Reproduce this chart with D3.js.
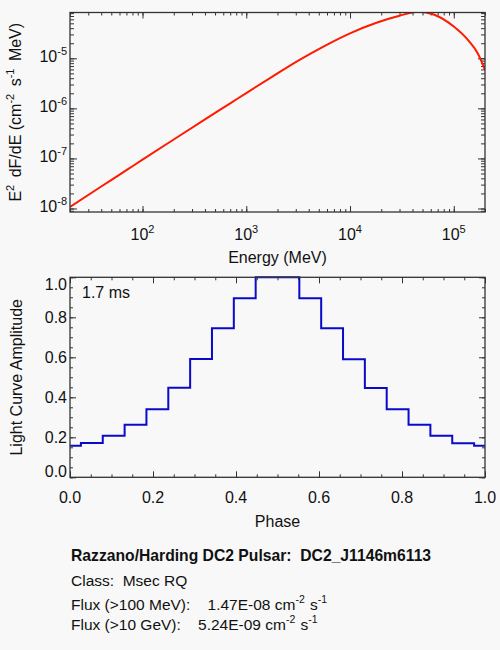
<!DOCTYPE html>
<html>
<head>
<meta charset="utf-8">
<script src="https://cdn.jsdelivr.net/npm/d3@7"></script>
<style>
  body { margin: 0; background: #f8f8f8; }
  text { font-family: "Liberation Sans", Arial, Helvetica, sans-serif; fill: #111; }
</style>
</head>
<body>
<svg id="chart" width="500" height="650"></svg>
<script>
var svg = d3.select('#chart');
const W = +svg.attr('width');
const H = +svg.attr('height');

// spectrum (MeV, cm^-2 s^-1 MeV)
const specEnergy = [20, 40, 70, 100, 200, 400, 700, 1000, 1800, 3200, 5600,
                    10000, 18000, 30000, 45000, 65000, 100000, 140000, 170000, 200000];
const specFlux = [1.08e-8, 2.75e-8, 5.82e-8, 9.44e-8, 2.39e-7, 6.03e-7, 1.26e-6, 2.02e-6,
                  4.37e-6, 9.12e-6, 1.74e-5, 3.16e-5, 5.13e-5, 7.08e-5, 8.5e-5, 7.4e-5,
                  4.3e-5, 2.2e-5, 1.26e-5, 5.9e-6];

// light curve bins
const lcPhase = [0, 0.0526, 0.1053, 0.1579, 0.2105, 0.2632, 0.3158, 0.3684, 0.4211, 0.4737,
                 0.5263, 0.5789, 0.6316, 0.6842, 0.7368, 0.7895, 0.8421, 0.8947, 0.9474, 1.0];
const lcAmp = [0.158, 0.172, 0.208, 0.263, 0.34, 0.448, 0.592, 0.745, 0.895, 1.0,
               1.0, 0.895, 0.745, 0.59, 0.447, 0.34, 0.263, 0.208, 0.17, 0.158];

// tick labels
const energyTicks = [1e2, 1e3, 1e4, 1e5];
const energyExp = ["2", "3", "4", "5"];
const fluxTicks = [1e-8, 1e-7, 1e-6, 1e-5];
const fluxExp = ["-8", "-7", "-6", "-5"];
const phaseTicks = [0, 0.2, 0.4, 0.6, 0.8, 1.0];
const ampTicks = [0, 0.2, 0.4, 0.6, 0.8, 1.0];

const NB = '\u00a0';
const infoTitle = "Razzano/Harding DC2 Pulsar:" + NB + NB + "DC2_J1146m6113";
const infoClass = "Class:" + NB + NB + "Msec RQ";
const flux100 = "1.47E-08";
const flux10g = "5.24E-09";
const periodLabel = "1.7 ms";

svg.append('rect').attr('width', W).attr('height', H).attr('fill', '#f8f8f8');

const left = 70, right = 485;
const top1 = 12.5, bot1 = 212;
const top2 = 277.3, bot2 = 477.3;
const axisColor = '#333';

// rich text with superscripts: parts = [[string, isSup], ...]
const rich = (sel, parts, supSize, gap) => {
    var lift = 0;
    parts.forEach(p => {
        const t = sel.append('tspan').text(p[0]);
        if (p[1]) {
            t.attr('dy', -7).style('font-size', supSize + 'px');
            lift = 7;
        } else if (lift) {
            t.attr('dy', lift).attr('dx', gap || 0);
            lift = 0;
        }
    });
};

const logMinor = (lo, hi) => {
    var out = [];
    for (var e = Math.floor(Math.log10(lo)); e <= Math.ceil(Math.log10(hi)); e++) {
        for (var m = 1; m <= 9; m++) {
            var v = m * Math.pow(10, e);
            if (v >= lo * 0.999 && v <= hi * 1.001) out.push(v);
        }
    }
    return out;
};

const ticks = (g, axisFn, scale, vals, len, transform) => {
    g.append('g').attr('transform', transform)
        .call(axisFn(scale).tickValues(vals).tickSize(-len).tickSizeOuter(0).tickFormat(''))
        .call(a => a.select('.domain').remove())
        .call(a => a.selectAll('line').attr('stroke', axisColor).attr('stroke-width', 1));
};

// ---------------- spectrum panel ----------------
const xE = d3.scaleLog().domain([20, 2e5]).range([left, right]);
const yF = d3.scaleLog().domain([Math.pow(10, -8.07), Math.pow(10, -4.085)]).range([bot1, top1]);

const g1 = svg.append('g');
svg.append('clipPath').attr('id', 'clip1').append('rect')
    .attr('x', left).attr('y', top1).attr('width', right - left).attr('height', bot1 - top1);

const eMinor = logMinor(20, 2e5);
const fMinor = logMinor(yF.domain()[0], yF.domain()[1]);

[[d3.axisBottom, 'translate(0,' + bot1 + ')'], [d3.axisTop, 'translate(0,' + top1 + ')']].forEach(a => {
    ticks(g1, a[0], xE, eMinor, 3, a[1]);
    ticks(g1, a[0], xE, energyTicks, 6, a[1]);
});
[[d3.axisLeft, 'translate(' + left + ',0)'], [d3.axisRight, 'translate(' + right + ',0)']].forEach(a => {
    ticks(g1, a[0], yF, fMinor, 4, a[1]);
    ticks(g1, a[0], yF, fluxTicks, 7, a[1]);
});

const spec = specEnergy.map((e, i) => ({e: e, f: specFlux[i]}));
g1.append('path').datum(spec)
    .attr('clip-path', 'url(#clip1)')
    .attr('fill', 'none')
    .attr('stroke', '#ff1a00')
    .attr('stroke-width', 2)
    .attr('d', d3.line().x(d => xE(d.e)).y(d => yF(d.f)).curve(d3.curveMonotoneX));

g1.append('rect').attr('x', left).attr('y', top1).attr('width', right - left).attr('height', bot1 - top1)
    .attr('fill', 'none').attr('stroke', axisColor).attr('stroke-width', 1.3);

energyTicks.forEach((v, i) => {
    const t = g1.append('text').attr('x', xE(v)).attr('y', 240).attr('text-anchor', 'middle')
        .style('font-size', '16px');
    rich(t, [['10', false], [energyExp[i], true]], 11);
});
fluxTicks.forEach((v, i) => {
    const t = g1.append('text').attr('x', 67).attr('y', yF(v) + 4).attr('text-anchor', 'end')
        .style('font-size', '16px');
    rich(t, [['10', false], [fluxExp[i], true]], 11);
});

g1.append('text').attr('x', (left + right) / 2).attr('y', 263).attr('text-anchor', 'middle')
    .style('font-size', '16px').text('Energy (MeV)');

const yl1 = g1.append('text').attr('transform', 'translate(21,' + ((top1 + bot1) / 2) + ') rotate(-90)')
    .attr('text-anchor', 'middle').style('font-size', '16px');
rich(yl1, [['E', false], ['2', true], [' dF/dE (cm', false], ['-2', true], [' s', false], ['-1', true], [' MeV)', false]], 11, 3);

// ---------------- light curve panel ----------------
const xP = d3.scaleLinear().domain([0, 1]).range([left, right]);
const yA = d3.scaleLinear().domain([0, 1]).range([bot2, top2]);
const g2 = svg.append('g');

const pMinor = d3.range(0, 1.0001, 0.05);
const aMinor = d3.range(0, 1.0001, 0.05);
[[d3.axisBottom, 'translate(0,' + bot2 + ')'], [d3.axisTop, 'translate(0,' + top2 + ')']].forEach(a => {
    ticks(g2, a[0], xP, pMinor, 3, a[1]);
    ticks(g2, a[0], xP, phaseTicks, 6, a[1]);
});
[[d3.axisLeft, 'translate(' + left + ',0)'], [d3.axisRight, 'translate(' + right + ',0)']].forEach(a => {
    ticks(g2, a[0], yA, aMinor, 3, a[1]);
    ticks(g2, a[0], yA, ampTicks, 6, a[1]);
});

const lc = lcPhase.map((p, i) => ({p: p, a: lcAmp[i]}));
g2.append('path').datum(lc)
    .attr('fill', 'none')
    .attr('stroke', '#0a0ac8')
    .attr('stroke-width', 2)
    .attr('d', d3.line().x(d => xP(d.p)).y(d => yA(d.a)).curve(d3.curveStep));

g2.append('rect').attr('x', left).attr('y', top2).attr('width', right - left).attr('height', bot2 - top2)
    .attr('fill', 'none').attr('stroke', axisColor).attr('stroke-width', 1.3);

const fmt = d3.format('.1f');
phaseTicks.forEach(v => {
    g2.append('text').attr('x', xP(v)).attr('y', 503).attr('text-anchor', 'middle')
        .style('font-size', '16px').text(fmt(v));
});
ampTicks.forEach(v => {
    // end labels are pulled inside the frame
    const yy = Math.max(top2 + 7, Math.min(bot2 - 6.5, yA(v)));
    g2.append('text').attr('x', 67).attr('y', yy + 5.8).attr('text-anchor', 'end')
        .style('font-size', '16px').text(fmt(v));
});

g2.append('text').attr('x', (left + right) / 2).attr('y', 527).attr('text-anchor', 'middle')
    .style('font-size', '16px').text('Phase');
g2.append('text').attr('transform', 'translate(22,' + ((top2 + bot2) / 2) + ') rotate(-90)')
    .attr('text-anchor', 'middle').style('font-size', '16px').text('Light Curve Amplitude');

g2.append('text').attr('x', 82).attr('y', 298).style('font-size', '16px').text(periodLabel);

// ---------------- info block ----------------
const info = svg.append('g');
info.append('text').attr('x', 71).attr('y', 561).style('font-size', '15.7px').style('font-weight', 'bold')
    .text(infoTitle);
info.append('text').attr('x', 71).attr('y', 586).style('font-size', '15.5px').text(infoClass);
const f1 = info.append('text').attr('x', 71).attr('y', 610).style('font-size', '15.5px');
rich(f1, [['Flux (>100 MeV):' + NB + NB + NB + NB + flux100 + ' cm', false], ['-2', true], [' s', false], ['-1', true]], 10.5, 1);
const f2 = info.append('text').attr('x', 71).attr('y', 630).style('font-size', '15.5px');
rich(f2, [['Flux (>10 GeV):' + NB + NB + NB + NB + flux10g + ' cm', false], ['-2', true], [' s', false], ['-1', true]], 10.5, 1);
</script>
</body>
</html>
